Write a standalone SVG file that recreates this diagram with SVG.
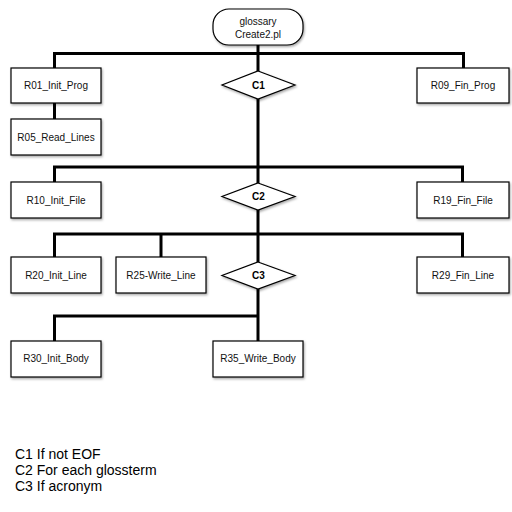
<svg xmlns="http://www.w3.org/2000/svg" width="512" height="512" viewBox="0 0 512 512">
  <defs>
    <filter id="shadow" x="-10%" y="-10%" width="130%" height="140%">
      <feDropShadow dx="1" dy="1.5" stdDeviation="0.8" flood-color="#000" flood-opacity="0.35"/>
    </filter>
  </defs>
  <style>
    .box { fill: #fff; stroke: #000; stroke-width: 1.2; filter: url(#shadow); }
    .lbl { font-family: "Liberation Sans", Arial, sans-serif; font-size: 10px; fill: #111; text-anchor: middle; }
    .cond { font-family: "Liberation Sans", Arial, sans-serif; font-size: 10px; font-weight: bold; fill: #000; text-anchor: middle; }
    .wire { fill: none; stroke: #000; stroke-width: 3; }
    .legend { font-family: "Liberation Sans", Arial, sans-serif; font-size: 14px; fill: #000; }
  </style>
  <rect width="512" height="512" fill="#fff"/>

  <!-- connectors -->
  <g id="connectors" class="wire">
    <path d="M258 45 V71 M258 99 V167"/>
    <path d="M54.5 68 V53.5 H463.5 V68"/>
    <path d="M54.5 103 V119"/>
    <path d="M54.5 182 V167 H462.5 V182"/>
    <path d="M258 167 V183 M258 210 V234"/>
    <path d="M54.5 257 V234 H462.5 V257"/>
    <path d="M161 234 V257"/>
    <path d="M258 234 V262 M258 289 V341"/>
    <path d="M54.5 341 V316 H258"/>
  </g>

  <!-- start -->
  <g id="start">
    <rect class="box" x="213" y="9" width="90" height="36" rx="16" ry="16"/>
    <text class="lbl" x="258" y="25">glossary</text>
    <text class="lbl" x="258" y="38">Create2.pl</text>
  </g>

  <g id="R01">
    <rect class="box" x="11" y="68" width="90" height="35"/>
    <text class="lbl" x="56" y="89">R01_Init_Prog</text>
  </g>
  <g id="R05">
    <rect class="box" x="11" y="119" width="90" height="36"/>
    <text class="lbl" x="56" y="141">R05_Read_Lines</text>
  </g>
  <g id="C1">
    <polygon class="box" points="258,71 295,85 258,99 222,85"/>
    <text class="cond" x="258.5" y="89">C1</text>
  </g>
  <g id="R09">
    <rect class="box" x="417" y="68" width="92" height="35"/>
    <text class="lbl" x="463" y="89">R09_Fin_Prog</text>
  </g>

  <g id="R10">
    <rect class="box" x="11" y="182" width="90" height="36"/>
    <text class="lbl" x="56" y="204">R10_Init_File</text>
  </g>
  <g id="C2">
    <polygon class="box" points="258,183 295,196.5 258,210 222,196.5"/>
    <text class="cond" x="258.5" y="200">C2</text>
  </g>
  <g id="R19">
    <rect class="box" x="417" y="182" width="92" height="36"/>
    <text class="lbl" x="463" y="204">R19_Fin_File</text>
  </g>

  <g id="R20">
    <rect class="box" x="11" y="257" width="90" height="36"/>
    <text class="lbl" x="56" y="279">R20_Init_Line</text>
  </g>
  <g id="R25">
    <rect class="box" x="116" y="257" width="90" height="36"/>
    <text class="lbl" x="161" y="279">R25-Write_Line</text>
  </g>
  <g id="C3">
    <polygon class="box" points="258,262 295,275.5 258,289 222,275.5"/>
    <text class="cond" x="258.5" y="279">C3</text>
  </g>
  <g id="R29">
    <rect class="box" x="417" y="257" width="92" height="36"/>
    <text class="lbl" x="463" y="279">R29_Fin_Line</text>
  </g>

  <g id="R30">
    <rect class="box" x="11" y="341" width="90" height="36"/>
    <text class="lbl" x="56" y="362">R30_Init_Body</text>
  </g>
  <g id="R35">
    <rect class="box" x="213" y="341" width="90" height="36"/>
    <text class="lbl" x="258" y="362">R35_Write_Body</text>
  </g>

  <!-- legend -->
  <g id="legend" class="legend">
    <text x="15" y="459">C1 If not EOF</text>
    <text x="15" y="475">C2 For each glossterm</text>
    <text x="15" y="491">C3 If acronym</text>
  </g>
</svg>
